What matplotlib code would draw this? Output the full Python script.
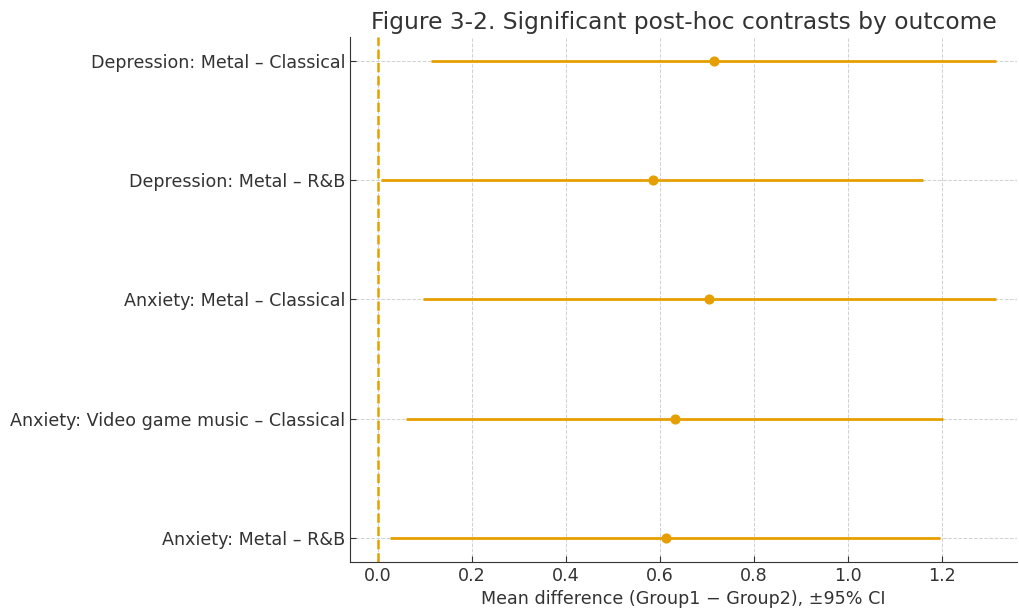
import numpy as np
import matplotlib
matplotlib.use("Agg")
import matplotlib.pyplot as plt

plt.rcParams['font.family'] = ['DejaVu Sans']

contrasts = ['Depression: Metal – Classical',
             'Depression: Metal – R&B',
             'Anxiety: Metal – Classical',
             'Anxiety: Video game music – Classical',
             'Anxiety: Metal – R&B']
mean_diff = [0.716, 0.585, 0.704, 0.632, 0.613]
ci_low = [0.113, 0.007, 0.096, 0.060, 0.027]
ci_high = [1.315, 1.160, 1.315, 1.203, 1.197]

color = '#E69F00'

fig = plt.figure(figsize=(10.19, 6.1), dpi=100)
ax = fig.add_axes([350 / 1019, 48 / 610, 667 / 1019, 525 / 610])

y = np.arange(len(contrasts))
mean_diff = np.array(mean_diff)
err = [mean_diff - np.array(ci_low), np.array(ci_high) - mean_diff]
ax.errorbar(mean_diff, y, xerr=err, fmt='o', color=color, ecolor=color,
            elinewidth=2, markersize=6.3, capsize=0)
ax.axvline(0, color=color, linestyle='--', linewidth=1.8)

ax.set_yticks(y)
ax.set_yticklabels(contrasts)
ax.set_ylim(len(contrasts) - 1 + 0.2, -0.2)
ax.set_xlim(-0.059, 1.36)
ax.set_xticks([0.0, 0.2, 0.4, 0.6, 0.8, 1.0, 1.2])

ax.grid(True, linestyle='--', color='#d0d0d0', linewidth=0.7)
ax.set_axisbelow(True)
ax.tick_params(direction='in', length=4, labelsize=12.6, colors='#333333')
for s in ['top', 'right']:
    ax.spines[s].set_visible(False)
ax.spines['left'].set_color('#333333')
ax.spines['bottom'].set_color('#333333')

ax.set_xlabel('Mean difference (Group1 − Group2), ±95% CI', fontsize=12.6, color='#333333')
ax.set_title('Figure 3-2. Significant post-hoc contrasts by outcome', fontsize=16.8, color='#333333')

plt.savefig('out.png', dpi=100)
